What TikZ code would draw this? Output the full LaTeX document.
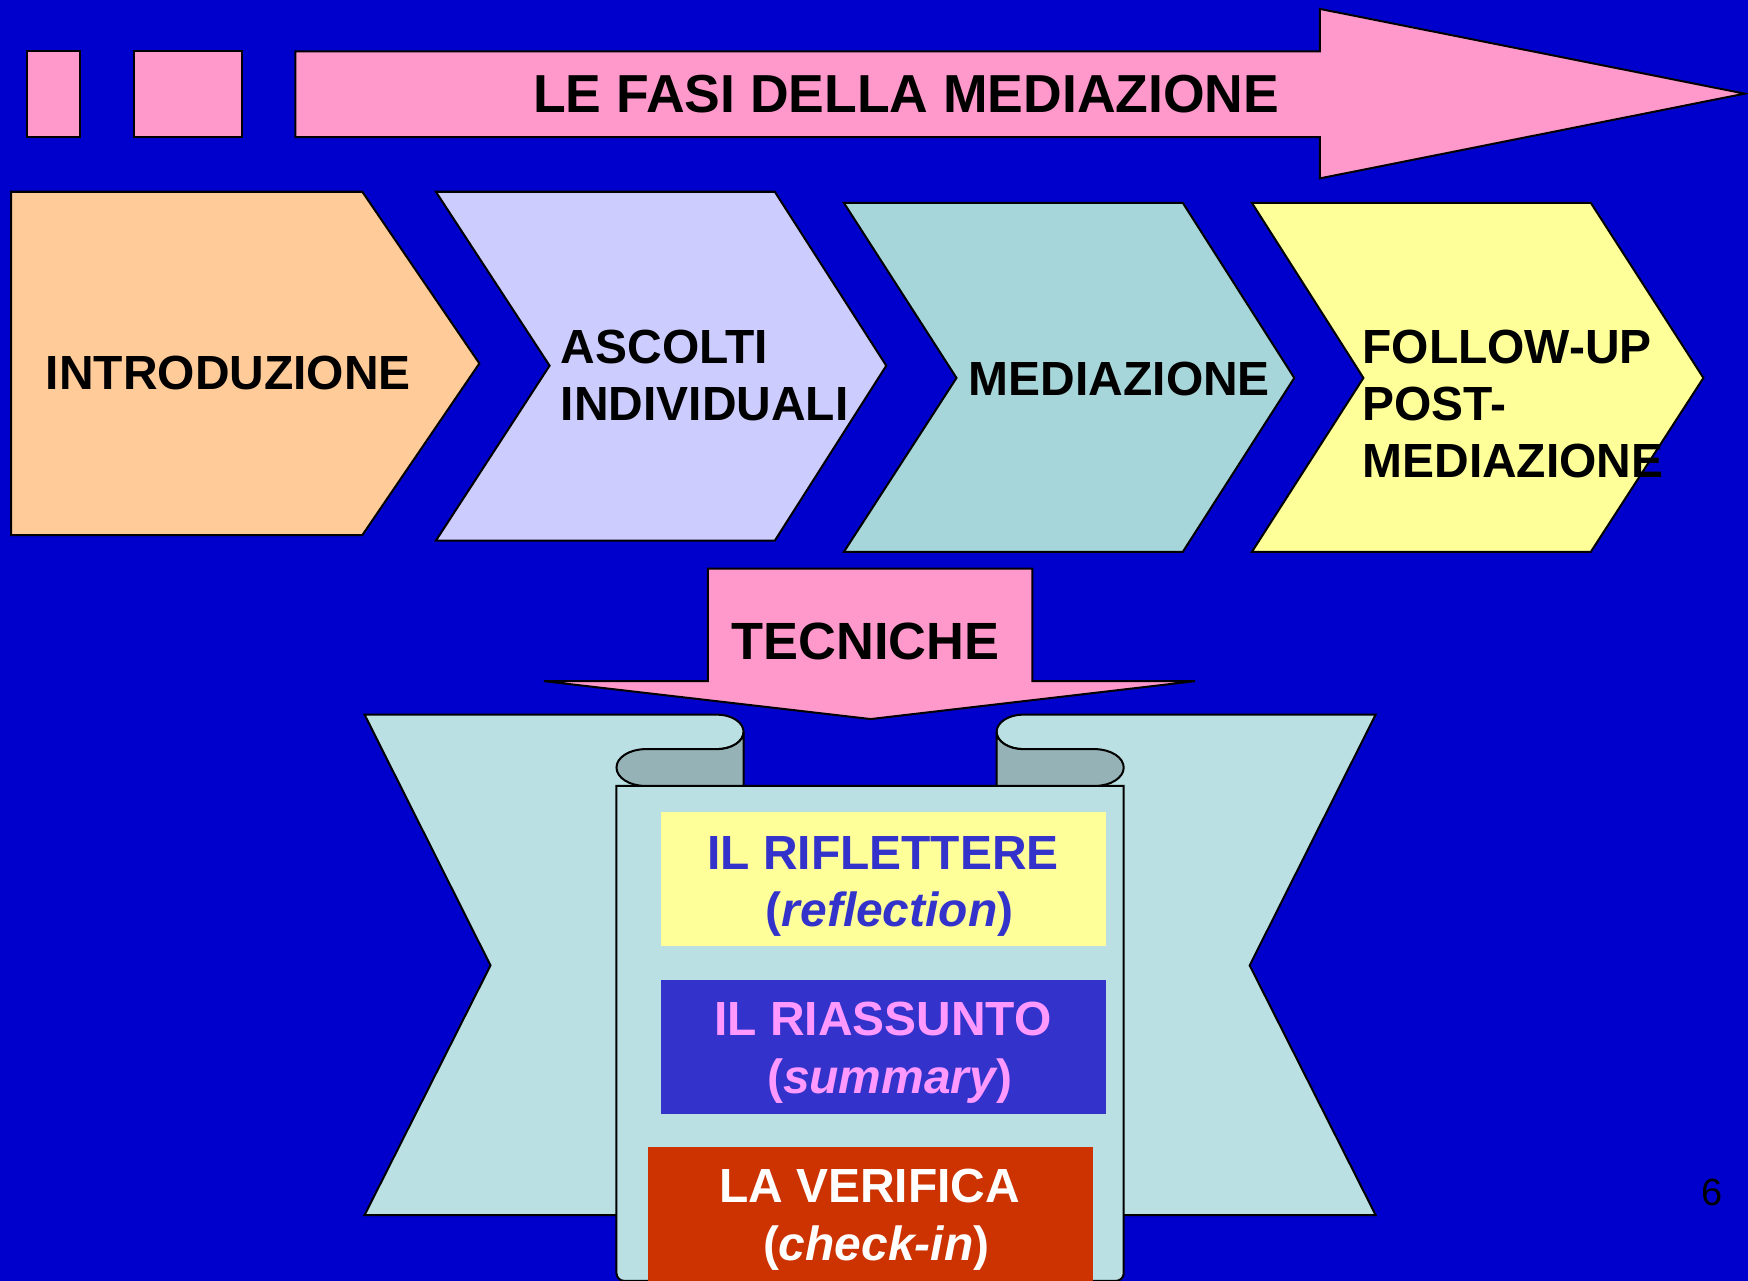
\documentclass[tikz,border=0pt]{standalone}
\usepackage{fontspec}
\setmainfont{Liberation Sans}
\definecolor{bgblue}{HTML}{0000CC}
\definecolor{pinkA}{HTML}{FF99CC}
\definecolor{peach}{HTML}{FFCC99}
\definecolor{lav}{HTML}{CCCCFF}
\definecolor{tealc}{HTML}{A6D5DA}
\definecolor{yel}{HTML}{FFFF99}
\definecolor{scrollc}{HTML}{BAE0E3}
\definecolor{tubec}{HTML}{95B3B7}
\definecolor{boxblue}{HTML}{3333CC}
\definecolor{textpink}{HTML}{FF99FF}
\definecolor{boxred}{HTML}{CC3300}
\tikzset{
  outl/.style={draw=black, line width=1.8pt, line join=miter},
  big/.style={inner sep=0pt, font=\fontsize{48}{56}\selectfont\bfseries},
  lbl/.style={inner sep=0pt, font=\fontsize{43}{51}\selectfont\bfseries},
  pnum/.style={inner sep=0pt, font=\fontsize{34}{40}\selectfont},
}
\begin{document}
\begin{tikzpicture}[x=1pt,y=-1pt]
\useasboundingbox (0,0) rectangle (1568,1149);
\fill[bgblue] (0,0) rectangle (1568,1149);
% title arrow
\draw[outl, fill=pinkA] (24,46) rectangle (72,123);
\draw[outl, fill=pinkA] (120,46) rectangle (217,123);
\draw[outl, fill=pinkA] (265,46) -- (1184,46) -- (1184,8) -- (1565,84) -- (1184,160) -- (1184,123) -- (265,123) -- cycle;
\node[big, anchor=base west] (title) at (478,101) {LE FASI DELLA MEDIAZIONE};
% chevrons
\draw[outl, fill=peach] (10,172) -- (325,172) -- (430,326) -- (325,480) -- (10,480) -- cycle;
\draw[outl, fill=lav] (391,172) -- (695,172) -- (795,328) -- (695,485) -- (391,485) -- (493,328) -- cycle;
\draw[outl, fill=tealc] (757,182) -- (1061,182) -- (1161,339) -- (1061,495) -- (757,495) -- (858,339) -- cycle;
\draw[outl, fill=yel] (1123,182) -- (1427,182) -- (1528,339) -- (1427,495) -- (1123,495) -- (1223,339) -- cycle;
\node[lbl, anchor=base west] (intro) at (41,349) {INTRODUZIONE};
\node[lbl, anchor=base west] (asc1) at (503,326) {ASCOLTI};
\node[lbl, anchor=base west] (asc2) at (503,377) {INDIVIDUALI};
\node[lbl, anchor=base west] (med) at (869,355) {MEDIAZIONE};
\node[lbl, anchor=base west] (fol1) at (1222,326) {FOLLOW-UP};
\node[lbl, anchor=base west] (fol2) at (1222,377) {POST-};
\node[lbl, anchor=base west] (fol3) at (1222,428) {MEDIAZIONE};
% tecniche arrow
\draw[outl, fill=pinkA] (635,510) -- (926,510) -- (926,611) -- (1072,611) -- (781,645) -- (488,611) -- (635,611) -- cycle;
\node[big, font=\fontsize{47}{56}\selectfont\bfseries, anchor=base west] (tec) at (656,592) {TECNICHE};
% bowtie halves
\draw[outl, fill=scrollc] (327,641) -- (643,641) arc[start angle=270, end angle=450, x radius=24, y radius=15.5] -- (620,690) -- (620,1090) -- (327,1090) -- (440,866) -- cycle;
\draw[outl, fill=scrollc] (1234,641) -- (918,641) arc[start angle=270, end angle=90, x radius=24, y radius=15.5] -- (941,690) -- (941,1090) -- (1234,1090) -- (1121,866) -- cycle;
% panel
\draw[outl, fill=scrollc] (553,705) -- (553,1142) arc[start angle=180, end angle=90, radius=7] -- (1001,1149) arc[start angle=90, end angle=0, radius=7] -- (1008,705) -- cycle;
% tubes
\draw[outl, fill=tubec] (667,656.5) -- (667,705) -- (579,705) arc[start angle=90, end angle=270, x radius=26, y radius=16.5] -- (643,672) arc[start angle=90, end angle=0, x radius=24, y radius=15.5] -- cycle;
\draw[outl, fill=tubec] (894,656.5) -- (894,705) -- (982,705) arc[start angle=90, end angle=-90, x radius=26, y radius=16.5] -- (918,672) arc[start angle=90, end angle=180, x radius=24, y radius=15.5] -- cycle;
% inner boxes
\fill[yel] (593,728) rectangle (992,849);
\fill[boxblue] (593,879) rectangle (992,999);
\fill[boxred] (581,1029) rectangle (980,1160);
\node[lbl, text=boxblue, anchor=base] (r1) at (792,780) {IL RIFLETTERE};
\node[lbl, text=boxblue, anchor=base] (r2) at (798,831) {({\itshape reflection})};
\node[lbl, text=textpink, anchor=base] (s1) at (792,929) {IL RIASSUNTO};
\node[lbl, text=textpink, anchor=base] (s2) at (798,981) {({\itshape summary})};
\node[lbl, text=white, anchor=base] (c1) at (780,1079) {LA VERIFICA};
\node[lbl, text=white, anchor=base] (c2) at (786,1131) {({\itshape check-in})};
% page number
\node[pnum, anchor=base] (pg) at (1536,1081) {6};
\end{tikzpicture}
\end{document}
